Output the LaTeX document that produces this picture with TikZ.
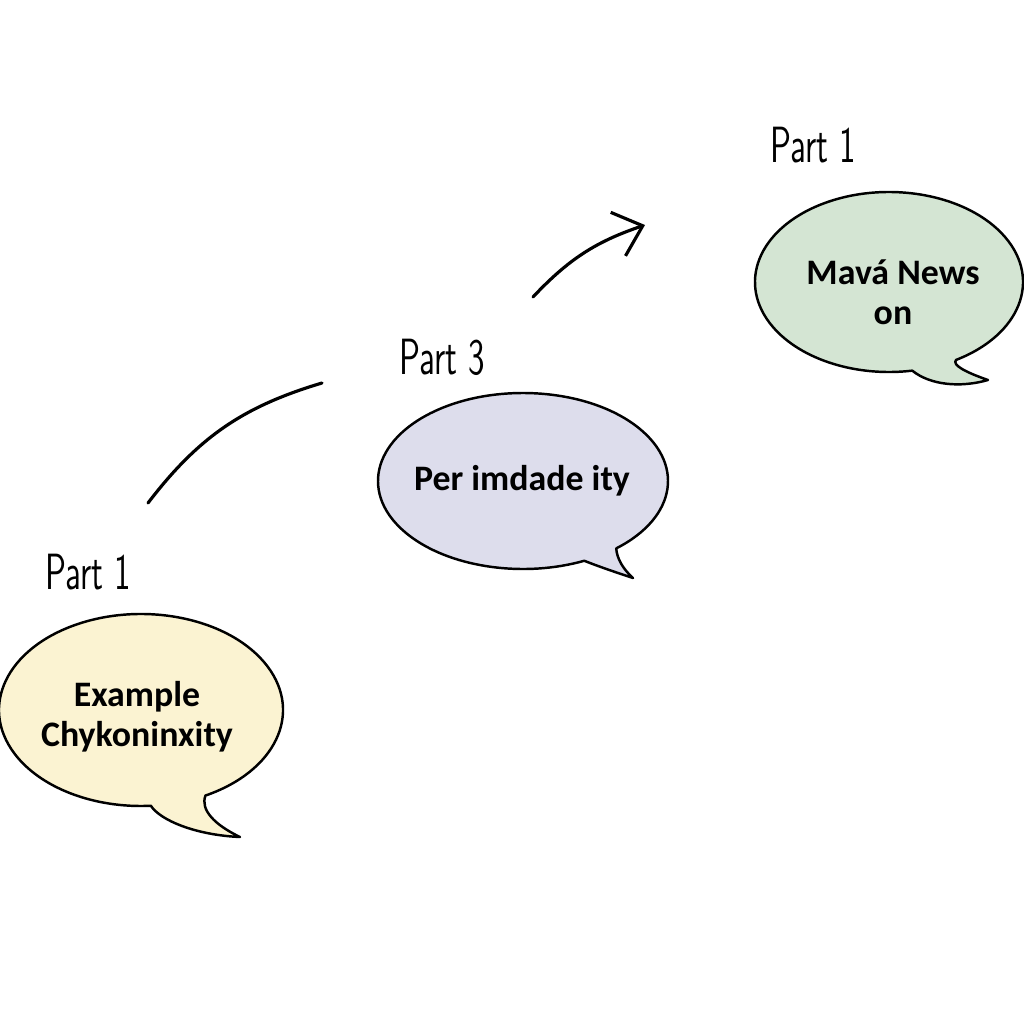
\documentclass[tikz,border=0pt]{standalone}
\usepackage{fontspec}
\setmainfont{Carlito}
\usepackage{xcolor}
\usepackage{tikz}
\usetikzlibrary{positioning, calc, arrows.meta}

\definecolor{sagefill}{RGB}{212,229,211}
\definecolor{lilacfill}{RGB}{221,221,236}
\definecolor{creamfill}{RGB}{251,243,210}

\begin{document}
\begin{tikzpicture}[
    bubble/.style={draw=black, line width=0.7pt, line join=round},
    bubtext/.style={align=center, font=\fontsize{10.2}{11.5}\selectfont\bfseries,
                    inner sep=0pt},
    partlbl/.style={font=\fontsize{14.5}{14.5}\selectfont\sffamily, inner sep=0pt},
    sketch/.style={line width=0.9pt, line cap=round},
    arw/.style={sketch, -{Straight Barb[length=2.6mm, width=4.6mm, line width=0.9pt]}},
]
\useasboundingbox (0,0) rectangle (10.24,-10.24);

% --- Speech bubbles ---
\draw[bubble, fill=sagefill] (8.89,-2.82) ++(-60:1.34 and 0.90)
    arc[start angle=-60, end angle=280, x radius=1.34, y radius=0.90]
    .. controls (9.30,-3.85) and (9.60,-3.88) .. (9.88,-3.80)
    .. controls (9.65,-3.72) and (9.52,-3.65) .. cycle;
\draw[bubble, fill=lilacfill] (5.23,-4.81) ++(-50:1.45 and 0.88)
    arc[start angle=-50, end angle=295, x radius=1.45, y radius=0.88]
    .. controls (6.00,-5.67) and (6.15,-5.72) .. (6.33,-5.78)
    .. controls (6.22,-5.68) and (6.17,-5.58) .. cycle;
\draw[bubble, fill=creamfill] (1.41,-7.10) ++(-63:1.42 and 0.96)
    arc[start angle=-63, end angle=274, x radius=1.42, y radius=0.96]
    .. controls (1.60,-8.20) and (1.95,-8.35) .. (2.40,-8.37)
    .. controls (2.15,-8.25) and (2.00,-8.10) .. cycle;

% --- Bubble texts ---
\node[bubtext] (news) at (8.93,-2.92) {Mavá News\\on};
\node[bubtext] (imdade) at (5.22,-4.81) {Per imdade ity};
\node[bubtext] (example) at (1.37,-7.17) {Example\\Chykoninxity};

% --- Part labels ---
\node[partlbl] (part1top) at (8.13,-1.45) {\scalebox{0.66}[1]{Part 1}};
\node[partlbl] (part3) at (4.42,-3.57) {\scalebox{0.66}[1]{Part 3}};
\node[partlbl] (part1low) at (0.88,-5.72) {\scalebox{0.66}[1]{Part 1}};

% --- Connectors ---
\coordinate (arcstart) at (1.48,-5.03);
\coordinate (arcend) at (3.22,-3.83);
\coordinate (arwstart) at (5.33,-2.97);
\coordinate (arwend) at (6.45,-2.25);
\draw[sketch] (arcstart) to[bend left=18] (arcend);
\draw[arw] (arwstart) to[bend left=14] (arwend);
\end{tikzpicture}
\end{document}
